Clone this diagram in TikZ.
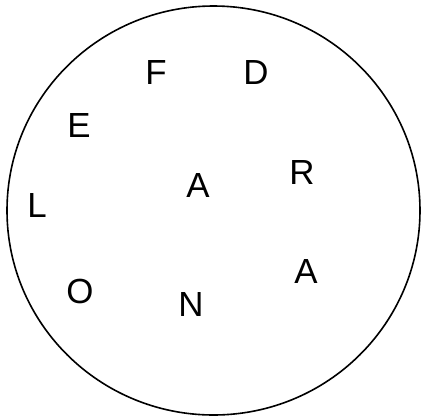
\documentclass[tikz,border=0pt]{standalone}
\usepackage{fontspec}
\setmainfont{Liberation Sans}
\usepackage{tikz}
\usetikzlibrary{positioning}

\begin{document}
\begin{tikzpicture}[x=1bp, y=-1bp, every node/.style={font=\fontsize{35}{35}\selectfont, inner sep=0pt}]
\useasboundingbox (0,0) rectangle (425,418);
\draw[line width=1.6bp] (213.5,210.5) ellipse [x radius=206.5, y radius=204.5];
\node (f) at (156,72.5) {F};
\node (d) at (256,72.5) {D};
\node (e) at (79,125) {E};
\node (r) at (302,172) {R};
\node (a1) at (198,185.5) {A};
\node (l) at (37,205) {L};
\node (a2) at (306,271.5) {A};
\node (o) at (80,291.5) {O};
\node (n) at (191,304.5) {N};
\end{tikzpicture}
\end{document}
